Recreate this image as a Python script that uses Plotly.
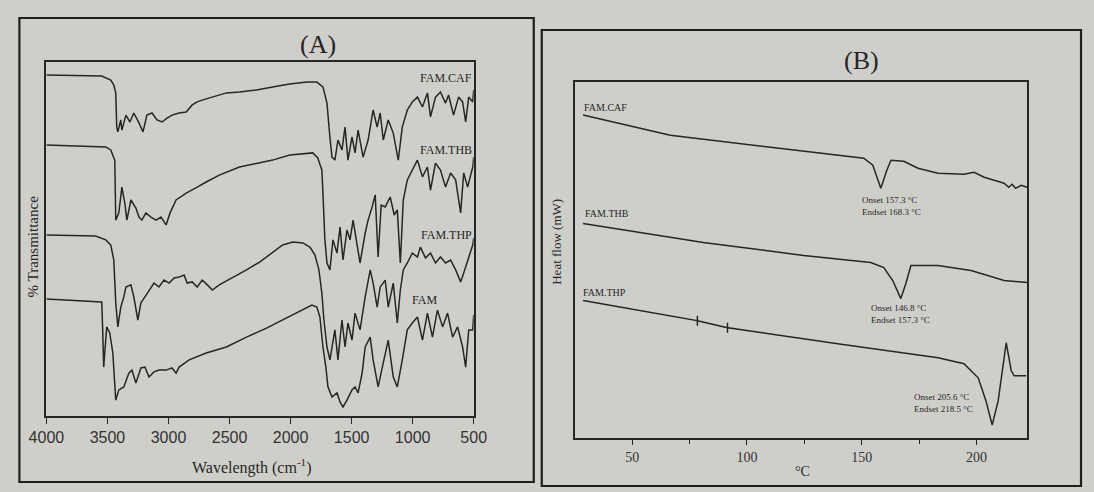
import plotly.graph_objects as go

# ---------------- Panel A: FTIR spectra (wavenumber cm-1, offset % transmittance) -------------
caf_wn = [4000, 3547, 3473, 3448, 3432, 3424, 3415, 3391, 3382, 3349, 3316, 3284, 3242, 3209, 3177,
          3135, 3094, 3053, 3012, 2971, 2913, 2855, 2806, 2765, 2724, 2641, 2526, 2419, 2279, 2147,
          2007, 1867, 1785, 1735, 1702, 1678, 1661, 1637, 1612, 1579, 1554, 1530, 1497, 1472, 1447,
          1406, 1365, 1324, 1291, 1266, 1241, 1200, 1159, 1118, 1085, 1044, 1003, 961, 920, 879,
          854, 813, 772, 731, 706, 665, 624, 591, 566, 541, 508, 500]
caf_t = [113.7, 113.3, 112.0, 110.3, 107.7, 96.3, 94.7, 98.7, 95.3, 100.3, 98.0, 101.0, 97.7, 94.7, 100.3,
         101.0, 98.7, 98.0, 99.3, 100.3, 101.0, 101.3, 103.7, 104.7, 105.3, 106.3, 107.7, 108.0, 108.7, 109.7,
         110.7, 111.3, 111.3, 109.7, 104.3, 93.0, 86.3, 85.3, 92.0, 88.7, 96.3, 85.3, 93.0, 87.7, 95.3,
         86.3, 92.0, 102.0, 96.3, 101.0, 92.0, 98.7, 94.3, 85.3, 96.3, 102.0, 104.7, 106.3, 103.0, 107.7,
         99.7, 106.3, 108.0, 104.3, 107.0, 100.3, 106.3, 104.7, 98.0, 106.3, 104.7, 108.7]

thb_wn = [4000, 3514, 3473, 3440, 3432, 3407, 3382, 3358, 3341, 3308, 3267, 3242, 3218, 3185, 3144,
          3102, 3061, 3020, 2987, 2938, 2855, 2806, 2765, 2691, 2584, 2419, 2279, 2147, 2007, 1867,
          1818, 1777, 1744, 1735, 1719, 1702, 1678, 1653, 1620, 1595, 1571, 1538, 1513, 1488, 1455,
          1431, 1389, 1365, 1332, 1307, 1283, 1258, 1225, 1184, 1151, 1126, 1101, 1077, 1044, 1003,
          961, 920, 879, 854, 813, 772, 731, 689, 648, 607, 582, 550, 508, 500]
thb_t = [90.3, 89.7, 88.7, 85.3, 65.3, 67.7, 76.3, 71.0, 65.3, 72.0, 69.3, 66.3, 65.3, 67.7, 66.3,
         65.3, 66.3, 63.7, 67.7, 72.0, 74.3, 75.3, 76.3, 78.0, 80.3, 83.0, 84.3, 85.3, 87.0, 87.7,
         87.7, 86.0, 82.0, 74.3, 58.7, 51.0, 48.7, 58.7, 54.3, 63.0, 52.0, 62.0, 58.7, 65.3, 56.3,
         51.0, 61.0, 65.3, 69.7, 73.7, 53.0, 70.3, 69.7, 73.0, 67.0, 68.7, 51.0, 72.0, 78.7, 82.0,
         85.3, 79.7, 83.0, 75.3, 84.3, 82.0, 76.3, 81.0, 78.7, 67.7, 81.0, 76.3, 83.0, 86.3]

thp_wn = [4000, 3597, 3514, 3473, 3448, 3432, 3415, 3391, 3366, 3349, 3308, 3284, 3251, 3226, 3193,
          3144, 3119, 3078, 3037, 2995, 2954, 2913, 2872, 2847, 2806, 2765, 2724, 2682, 2641, 2584,
          2477, 2361, 2254, 2147, 2065, 1982, 1900, 1842, 1801, 1768, 1744, 1727, 1702, 1678, 1661,
          1637, 1612, 1579, 1554, 1530, 1497, 1472, 1431, 1389, 1348, 1324, 1291, 1266, 1225, 1200,
          1159, 1126, 1101, 1077, 1044, 1003, 961, 937, 895, 854, 813, 772, 731, 689, 648,
          607, 582, 550, 508, 500]
thp_t = [60.3, 60.0, 58.7, 57.0, 52.0, 37.7, 29.7, 36.3, 39.7, 43.0, 43.7, 39.7, 32.0, 37.7, 39.7,
         42.7, 44.3, 43.0, 45.3, 44.3, 46.0, 46.3, 47.0, 44.3, 44.7, 43.0, 45.3, 43.7, 42.0, 43.7,
         46.0, 48.7, 51.3, 54.7, 57.0, 58.0, 57.7, 56.3, 53.7, 48.7, 41.0, 32.0, 23.0, 18.7, 23.0,
         28.7, 18.7, 32.0, 23.0, 31.0, 25.3, 34.3, 28.7, 39.7, 48.7, 44.3, 36.3, 43.0, 45.3, 36.3,
         44.3, 31.0, 42.0, 48.7, 51.0, 54.3, 53.0, 56.3, 52.7, 54.3, 51.0, 53.0, 51.0, 52.0, 48.7,
         44.7, 47.7, 52.0, 57.0, 59.3]

fam_wn = [4000, 3547, 3539, 3531, 3506, 3481, 3456, 3432, 3407, 3366, 3325, 3300, 3267, 3226, 3193,
          3160, 3119, 3078, 3020, 2971, 2938, 2913, 2831, 2691, 2526, 2361, 2197, 2032, 1900, 1826,
          1785, 1760, 1735, 1711, 1694, 1661, 1620, 1595, 1571, 1538, 1497, 1472, 1447, 1414, 1389,
          1348, 1324, 1283, 1241, 1200, 1159, 1126, 1085, 1044, 1003, 961, 920, 879, 838, 797,
          755, 714, 673, 632, 591, 566, 541, 508, 500]
fam_t = [39.0, 38.0, 28.7, 16.3, 29.7, 27.7, 21.0, 5.3, 8.7, 9.7, 14.3, 15.3, 11.0, 16.0, 16.3,
         13.0, 14.7, 15.3, 15.3, 16.0, 14.3, 16.3, 18.7, 21.0, 23.0, 26.3, 29.3, 32.7, 35.3, 37.0,
         36.3, 33.0, 23.0, 16.3, 9.7, 6.3, 7.7, 4.7, 3.0, 5.3, 8.7, 9.7, 7.7, 14.3, 23.0,
         26.3, 18.7, 9.7, 17.7, 25.3, 13.0, 9.7, 18.7, 28.7, 31.0, 33.0, 25.3, 34.3, 26.3, 35.3,
         29.7, 34.3, 26.3, 29.7, 23.0, 16.3, 28.7, 28.7, 33.7]

ftir_names = ["FAM.CAF", "FAM.THB", "FAM.THP", "FAM"]
ftir_label_wn = [500, 500, 500, 903]
ftir_label_t = [112.7, 88.7, 60.3, 38.7]
wn_ticks = [4000, 3500, 3000, 2500, 2000, 1500, 1000, 500]

# ---------------- Panel B: DSC thermograms (temperature degC, heat flow mW offset) ----------------
dsc_caf_temp = [28.6, 66.6, 110.3, 133.4, 150.9, 154.8, 158.3, 160.9, 162.7, 168.3, 174.5, 183.2,
                194.5, 198.9, 203.3, 212.0, 214.0, 215.5, 217.0, 219.4, 222.0]
dsc_caf_hf = [32.2, 30.2, 29.0, 28.4, 27.9, 27.2, 24.9, 26.7, 27.7, 27.6, 26.9, 26.4,
              26.3, 26.5, 26.0, 25.4, 25.0, 25.3, 24.9, 25.2, 25.0]

dsc_thb_temp = [28.6, 81.0, 124.7, 153.9, 159.6, 163.5, 167.0, 169.2, 171.4, 183.2, 197.6, 212.0, 222.0]
dsc_thb_hf = [21.4, 19.5, 18.2, 17.5, 17.0, 15.7, 13.9, 15.4, 17.2, 17.2, 16.7, 15.7, 15.5]

dsc_thp_temp = [28.6, 78.4, 78.4, 78.4, 78.4, 91.5, 91.5, 91.5, 91.5, 139.5, 183.2, 194.5, 200.7,
                204.1, 206.8, 209.4, 212.9, 215.1, 216.4, 221.6]
dsc_thp_hf = [13.7, 11.7, 12.2, 11.2, 11.7, 11.0, 11.5, 10.5, 11.0, 9.4, 8.0, 7.4, 6.0,
              3.7, 1.3, 3.7, 9.5, 6.7, 6.2, 6.2]

dsc_names = ["FAM.CAF", "FAM.THB", "FAM.THP"]
dsc_label_temp = [28.0, 28.5, 27.5]
dsc_label_hf = [33.0, 22.4, 14.5]
onset_text = ["Onset 157.3 °C<br>Endset 168.3 °C",
              "Onset 146.8 °C<br>Endset 157.3 °C",
              "Onset 205.6 °C<br>Endset 218.5 °C"]
onset_temp = [163.0, 167.0, 185.5]
onset_hf = [23.1, 12.4, 3.5]
temp_ticks = [50, 100, 150, 200]

INK = "#262626"
BG = "#cfcfca"
SERIF = "Liberation Serif"
W, H = 1094, 492


def fx(x):
    # horizontal paper fraction for a target pixel column
    return min(max((x - 18.6) / 0.971, 0), W) / W


def fy(y):
    return 1 - y / H


fig = go.Figure()
for wn, t in [(caf_wn, caf_t), (thb_wn, thb_t), (thp_wn, thp_t), (fam_wn, fam_t)]:
    fig.add_trace(go.Scatter(x=wn, y=t, mode="lines", line=dict(color=INK, width=1.5),
                             xaxis="x", yaxis="y", showlegend=False, hoverinfo="skip"))
for tt, hf in [(dsc_caf_temp, dsc_caf_hf), (dsc_thb_temp, dsc_thb_hf), (dsc_thp_temp, dsc_thp_hf)]:
    fig.add_trace(go.Scatter(x=tt, y=hf, mode="lines", line=dict(color=INK, width=1.5),
                             xaxis="x2", yaxis="y2", showlegend=False, hoverinfo="skip"))

ann = []
for name, xw, yt in zip(ftir_names, ftir_label_wn, ftir_label_t):
    ann.append(dict(x=xw, y=yt, xref="x", yref="y", text=name, showarrow=False,
                    xanchor="right" if name != "FAM" else "center", yanchor="middle",
                    font=dict(family=SERIF, size=12, color=INK)))
for name, xt, yh in zip(dsc_names, dsc_label_temp, dsc_label_hf):
    ann.append(dict(x=xt, y=yh, xref="x2", yref="y2", text=name, showarrow=False,
                    xanchor="left", yanchor="middle", font=dict(family=SERIF, size=10, color=INK)))
for txt, xt, yh in zip(onset_text, onset_temp, onset_hf):
    ann.append(dict(x=xt, y=yh, xref="x2", yref="y2", text=txt, showarrow=False, align="left",
                    xanchor="center", yanchor="middle", font=dict(family=SERIF, size=9, color=INK)))

for txt, (x, y), size, ang in [("(A)", (318, 44), 26, 0), ("(B)", (862, 60), 26, 0),
                               ("Wavelength (cm<sup>-1</sup>)", (252, 466), 16, 0),
                               ("% Transmittance", (34, 246), 15, -90),
                               ("°C", (803, 471), 14, 0),
                               ("Heat flow (mW)", (556, 242), 13, -90)]:
    ann.append(dict(x=fx(x), y=fy(y), xref="paper", yref="paper", text=txt, showarrow=False,
                    xanchor="center", yanchor="middle", textangle=ang,
                    font=dict(family=SERIF, size=size, color=INK)))

shapes = []
for (x0, y0, x1, y1) in [(20, 18, 534, 482), (542, 30, 1084, 486)]:
    shapes.append(dict(type="rect", xref="paper", yref="paper", x0=fx(x0), y0=fy(y1),
                       x1=fx(x1), y1=fy(y0), line=dict(color="#1e1e1e", width=2.2)))

fig.update_layout(
    width=W, height=H, margin=dict(l=0, r=0, t=0, b=0),
    paper_bgcolor=BG, plot_bgcolor=BG,
    annotations=ann, shapes=shapes,
    xaxis=dict(domain=[fx(47), fx(474)], range=[4000, 500], anchor="y",
               showline=True, mirror=True, linecolor=INK, linewidth=1.6,
               ticks="outside", ticklen=6, tickwidth=1.4, tickcolor=INK,
               tickvals=wn_ticks, ticktext=[str(v) for v in wn_ticks],
               tickfont=dict(family="Liberation Sans", size=16, color="#333333"),
               showgrid=False, zeroline=False),
    yaxis=dict(domain=[fy(416), fy(62)], range=[0, 118], anchor="x",
               showline=True, mirror=True, linecolor=INK, linewidth=1.6,
               showticklabels=False, ticks="", showgrid=False, zeroline=False),
    xaxis2=dict(domain=[fx(575), fx(1027)], range=[25, 222], anchor="y2",
                showline=True, mirror=True, linecolor=INK, linewidth=1.6,
                ticks="outside", ticklen=5, tickwidth=1.2, tickcolor=INK,
                tickvals=temp_ticks, ticktext=[str(v) for v in temp_ticks],
                minor=dict(tickvals=[75, 125, 175], ticks="outside", ticklen=4, tickcolor=INK),
                tickfont=dict(family=SERIF, size=14, color="#333333"),
                showgrid=False, zeroline=False),
    yaxis2=dict(domain=[fy(438), fy(82)], range=[0, 35.5], anchor="x2",
                showline=True, mirror=True, linecolor=INK, linewidth=1.6,
                showticklabels=False, ticks="", showgrid=False, zeroline=False),
)

fig.write_html("out.html",
               config={"displayModeBar": False},
               post_script="document.body.style.margin='0';document.body.style.overflow='hidden';"
                           "document.body.style.background='" + BG + "';")
